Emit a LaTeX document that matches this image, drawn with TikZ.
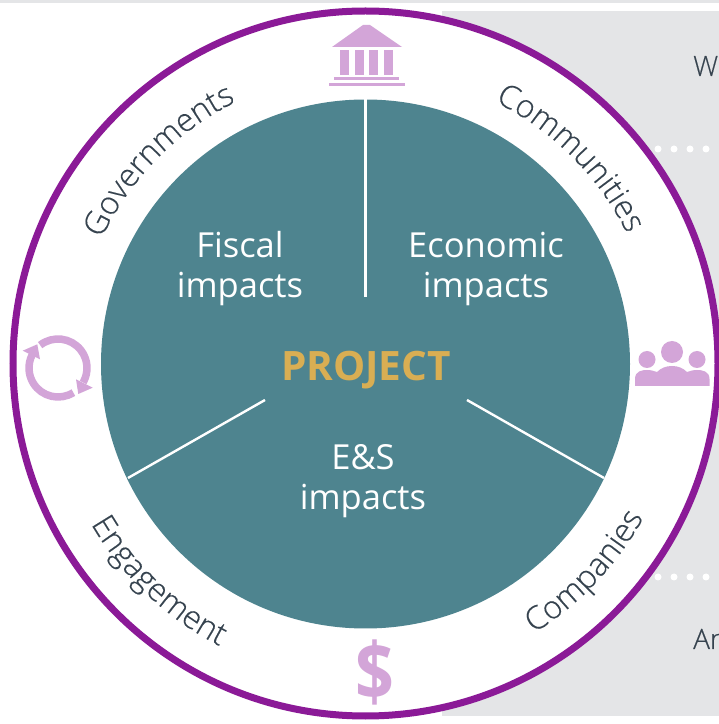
\documentclass[tikz,border=0pt]{standalone}
\usepackage{fontspec}
\usetikzlibrary{decorations.text}
\setmainfont{Open Sans}
\newfontfamily\lt{Open Sans Light}[FakeBold=0.35]
\definecolor{ink}{HTML}{36434F}
\definecolor{teal}{HTML}{4E848F}
\definecolor{ringc}{HTML}{8B1A97}
\definecolor{pink}{HTML}{D3A5D8}
\definecolor{gold}{HTML}{D9AE53}
\definecolor{bg}{HTML}{E4E5E7}
\tikzset{
  inlabel/.style={text=white,font=\fontsize{34.5}{41}\selectfont,align=center,inner sep=0pt},
  sidetext/.style={text=ink,font=\lt\fontsize{28}{30}\selectfont,inner sep=0pt,anchor=base west},
  spoke/.style={draw=white,line width=2.4pt},
  dot/.style={circle,fill=white,minimum size=7pt,inner sep=0pt},
  icon/.style={fill=pink,draw=none},
  cyc/.style={draw=pink,line width=7.5pt,line cap=butt},
}
\newcommand{\arclabel}[4]{% radius, start, end, text
  \path[decorate,decoration={text along path,text align=center,
    text={|\lt\fontsize{32}{40}\selectfont\color{ink}|#4}}]
    (365.5+#1*cos #2,360.5+#1*sin #2) arc[start angle=#2,end angle=#3,radius=#1];}
\begin{document}
\begin{tikzpicture}[x=1pt,y=1pt]
\useasboundingbox (0,0) rectangle (719,724);
\begin{scope}
\clip (0,0) rectangle (719,724);
\fill[white] (0,0) rectangle (719,724);
\fill[bg] (0,721) rectangle (719,724);
\fill[bg] (442,8) rectangle (719,713);
\node[sidetext] (w) at (693,648) {W};
\node[sidetext] (an) at (693,75) {An};
\foreach \x/\n in {658/a,674/b,690/c,706/d}{
  \node[dot] (t\n) at (\x,575) {};
  \node[dot] (b\n) at (\x,147) {};
}
\node[circle,fill=white,draw=ringc,line width=7pt,minimum size=705pt,inner sep=0pt] (ring) at (365.5,360.5) {};
\node[circle,fill=teal,minimum size=529pt,inner sep=0pt] (disc) at (365.5,360) {};
\coordinate (s1a) at (365.5,625);
\coordinate (s1b) at (365.5,427);
\coordinate (s2a) at (128,246);
\coordinate (s2b) at (265,324);
\coordinate (s3a) at (604,246);
\coordinate (s3b) at (467,324);
\draw[spoke] (s1a) -- (s1b);
\draw[spoke] (s2a) -- (s2b);
\draw[spoke] (s3a) -- (s3b);
\node[inlabel] (fiscal) at (240,455) {Fiscal\\[-1pt]impacts};
\node[inlabel] (econ) at (486,455) {Economic\\[-1pt]impacts};
\node[inlabel] (es) at (363,243) {E\&S\\[-1pt]impacts};
\node[text=gold,inner sep=0pt,font=\bfseries\fontsize{40.5}{44}\selectfont] (proj) at (366,353.5) {PROJECT};
\arclabel{292}{154}{117}{Governments}
\arclabel{292}{64}{26}{Communities}
\arclabel{318}{209}{244}{Engagement}
\arclabel{318}{301.5}{331.5}{Companies}
% bank
\fill[icon] (332,677) -- (363,699) -- (370,699) -- (402,677) -- cycle;
\foreach \x in {340,355,369,384}{\fill[icon] (\x,649) rectangle (\x+9,674);}
\fill[icon] (334,644) rectangle (399,647);
\fill[icon] (329,638) rectangle (405,641);
% cycle
\begin{scope}[shift={(58,356)}]
\draw[cyc] (128:29) arc[start angle=128,end angle=-30,radius=29];
\draw[cyc] (-58:29) arc[start angle=-58,end angle=-207,radius=29];
\end{scope}
\fill[icon] (22.7,373.3) -- (37.3,379.7) -- (40,364.7) -- cycle;
\fill[icon] (76,344.7) -- (92.7,336.3) -- (78.3,330) -- cycle;
% people
\fill[icon] (672,372) circle[radius=11];
\fill[icon] (647,364.5) circle[radius=8.5];
\fill[icon] (697,364.5) circle[radius=8.5];
\fill[icon] (635,338) -- (635,345) .. controls (635,353) and (642,354) .. (647,354) .. controls (651,354) and (654,353) .. (657,352) .. controls (661,356) and (666,358) .. (672,358) .. controls (678,358) and (683,356) .. (687,352) .. controls (690,353) and (693,354) .. (697,354) .. controls (702,354) and (709.5,353) .. (709.5,345) -- (709.5,338) -- cycle;
% dollar
\node[text=pink,inner sep=0pt,font=\bfseries\fontsize{80}{88}\selectfont,xscale=0.85,transform shape] (dollar) at (374.5,52) {\$};
\end{scope}
\end{tikzpicture}
\end{document}
